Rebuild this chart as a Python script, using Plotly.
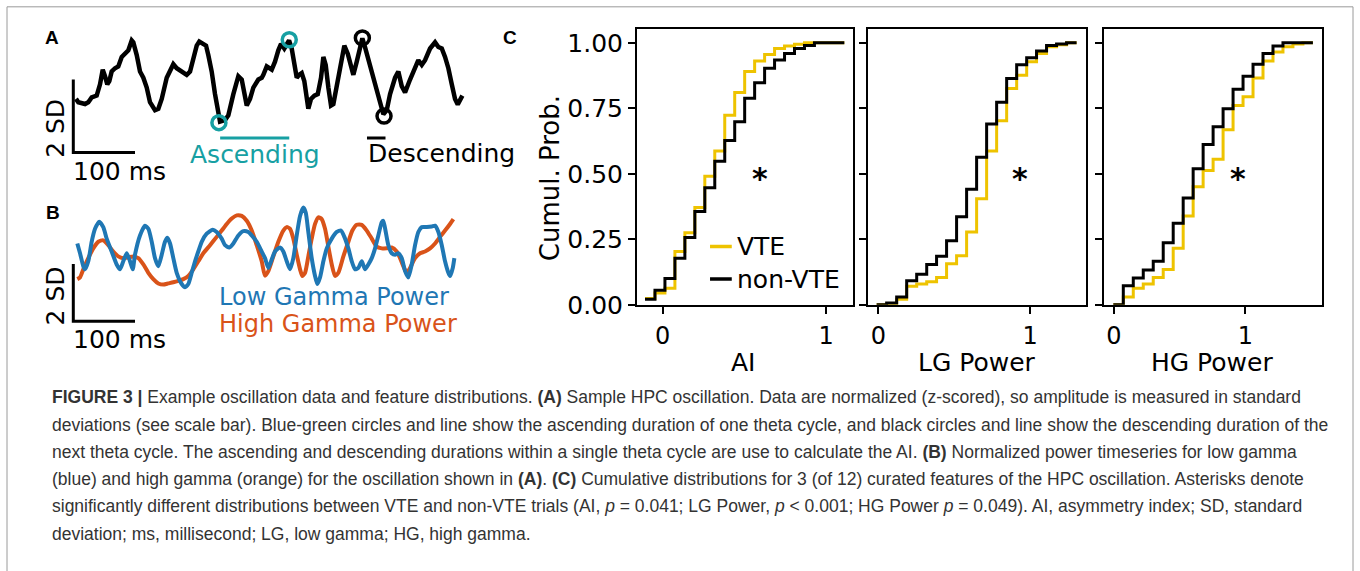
import plotly.graph_objects as go

W, H = 1360, 571

# ---------------- Panel A : sample HPC oscillation (time ms, amplitude SD)
a_time = [4.4, 8.1, 19.0, 24.3, 29.8, 37.9, 43.3, 47.7, 51.4, 55.1,
          58.4, 62.2, 67.6, 72.9, 78.5, 83.8, 89.2, 94.7, 97.3, 102.8,
          108.1, 113.5, 119.0, 124.3, 132.4, 137.8, 143.3, 151.4, 156.8, 162.1,
          167.6, 175.7, 183.8, 189.2, 194.5, 200.0, 204.2, 210.7, 215.1, 218.8,
          224.3, 229.7, 235.0, 237.8, 245.9, 251.3, 259.4, 267.5, 273.0, 278.3,
          281.1, 286.4, 291.8, 299.9, 305.4, 308.0, 313.5, 321.6, 326.9, 332.3,
          336.7, 342.0, 345.9, 349.7, 354.0, 358.2, 362.1, 365.9, 370.2, 374.4,
          378.3, 380.9, 385.3, 390.7, 396.2, 401.5, 405.3, 409.1, 413.4, 417.7,
          421.5, 427.0, 433.9, 439.3, 444.8, 450.2, 453.9, 459.4, 464.7, 468.5,
          472.8, 481.0, 489.1, 497.2, 502.5, 508.0, 513.4, 521.5, 526.8, 532.3,
          537.7, 545.8, 553.9, 559.2, 564.8, 570.1, 578.2, 586.3, 591.7, 597.2,
          602.5, 607.9, 613.4, 618.7, 623.1, 626.8, 630.6]
a_amp = [1.47, 1.38, 1.33, 1.38, 1.51, 1.56, 1.87, 2.27, 2.09, 1.87,
         1.96, 2.22, 2.31, 2.36, 2.62, 2.71, 2.80, 3.07, 3.02, 2.67,
         2.22, 2.05, 1.78, 1.38, 1.16, 1.20, 1.47, 2.05, 2.27, 2.42,
         2.31, 2.22, 2.13, 2.22, 2.58, 2.93, 3.04, 2.98, 2.93, 2.67,
         2.22, 1.60, 1.02, 0.85, 0.89, 1.02, 1.60, 2.09, 2.00, 1.56,
         1.29, 1.47, 1.78, 2.00, 2.05, 2.13, 2.36, 2.27, 2.49, 2.80,
         2.98, 2.85, 2.98, 3.07, 2.85, 2.40, 2.05, 2.13, 2.18, 1.96,
         1.38, 1.20, 1.47, 1.56, 1.60, 2.05, 2.62, 2.40, 1.78, 1.29,
         1.33, 1.78, 2.40, 2.93, 2.71, 2.36, 2.13, 2.49, 2.85, 3.13,
         2.89, 2.40, 1.87, 1.33, 1.05, 1.16, 1.60, 2.05, 2.22, 1.82,
         1.65, 2.00, 2.36, 2.53, 2.40, 2.53, 2.85, 3.02, 2.89, 2.85,
         2.62, 2.31, 1.87, 1.47, 1.32, 1.42, 1.56]
asc_pts_t = [236.0, 350.0]
asc_pts_a = [0.82, 3.09]
desc_pts_t = [468.5, 503.6]
desc_pts_a = [3.14, 1.00]
asc_bar = [238.0, 350.0]
desc_bar = [476.0, 506.0]
bar_level = 0.40
scale_ms = 100
scale_sd = 2

# ---------------- Panel B : gamma power time series
lg_time = [6.5, 10.9, 16.2, 19.0, 24.3, 29.8, 35.2, 42.1, 48.6, 54.1,
           62.2, 70.3, 75.7, 81.0, 86.6, 91.9, 96.3, 100.0, 108.1, 116.2,
           121.6, 127.1, 132.4, 137.8, 143.3, 148.6, 152.4, 156.8, 162.1, 167.6,
           175.7, 181.1, 186.4, 191.9, 197.3, 202.6, 208.1, 216.2, 226.0, 232.4,
           240.5, 245.9, 252.9, 259.4, 267.5, 275.6, 283.7, 289.2, 297.3, 305.4,
           310.7, 316.1, 321.6, 326.9, 335.0, 340.4, 345.9, 351.3, 356.6, 362.1,
           367.5, 372.8, 376.7, 380.9, 386.4, 391.8, 395.5, 399.9, 405.3, 410.8,
           418.9, 427.0, 433.9, 439.3, 445.8, 451.3, 456.6, 462.0, 467.5, 472.8,
           478.2, 483.7, 489.1, 494.4, 499.9, 502.5, 506.4, 510.6, 516.1, 521.5,
           526.8, 532.3, 537.7, 543.0, 548.5, 553.9, 559.2, 564.8, 572.9, 581.0,
           586.3, 591.7, 597.2, 602.5, 607.9, 610.6, 615.0, 617.6]
lg_power = [2.71, 2.37, 1.92, 1.81, 2.09, 2.77, 3.22, 3.47, 3.28, 2.88,
            2.43, 1.98, 1.81, 2.09, 2.37, 2.09, 1.81, 2.32, 2.99, 3.33,
            3.22, 2.77, 2.20, 1.92, 2.32, 2.77, 2.91, 2.71, 2.20, 1.69,
            1.30, 1.19, 1.30, 1.69, 2.09, 2.43, 2.77, 3.05, 3.19, 3.11,
            2.88, 2.65, 2.57, 2.71, 2.99, 3.14, 3.11, 2.99, 2.77, 2.43,
            2.20, 1.86, 2.15, 2.43, 2.57, 2.43, 2.09, 1.81, 2.20, 2.99,
            3.67, 3.96, 3.79, 3.11, 2.20, 1.58, 1.30, 1.53, 2.09, 2.54,
            2.88, 3.11, 3.16, 2.94, 2.54, 2.09, 1.81, 1.86, 2.09, 1.81,
            1.98, 2.20, 2.54, 2.99, 3.45, 3.50, 3.11, 2.65, 2.37, 2.32,
            2.37, 2.20, 1.75, 1.53, 1.98, 2.65, 3.11, 3.28, 3.28, 3.30,
            3.33, 3.11, 2.65, 2.09, 1.69, 1.58, 1.86, 2.20]
hg_time = [6.5, 10.9, 16.2, 24.3, 32.4, 40.5, 48.6, 56.7, 64.8, 72.9,
           81.0, 89.2, 97.3, 105.4, 113.5, 121.6, 129.7, 137.8, 145.9, 154.0,
           162.1, 170.2, 178.3, 186.4, 194.5, 202.6, 210.7, 221.6, 232.4, 240.5,
           248.7, 256.8, 264.9, 273.0, 281.1, 289.2, 297.3, 305.4, 310.7, 316.1,
           324.2, 332.3, 340.4, 345.9, 351.3, 356.6, 362.1, 367.5, 371.2, 375.6,
           380.9, 386.4, 391.8, 397.1, 402.6, 408.0, 413.4, 418.9, 424.2, 429.6,
           437.7, 445.8, 452.3, 459.4, 467.5, 475.6, 483.7, 491.8, 499.9, 508.0,
           516.1, 524.2, 529.6, 534.9, 540.4, 545.8, 553.9, 562.0, 570.1, 578.2,
           586.3, 594.4, 602.5, 610.6, 616.0]
hg_power = [1.47, 1.53, 1.81, 2.20, 2.54, 2.77, 2.82, 2.65, 2.43, 2.26,
            2.20, 2.23, 2.26, 2.20, 1.98, 1.69, 1.47, 1.32, 1.28, 1.32,
            1.36, 1.41, 1.47, 1.58, 1.81, 2.09, 2.37, 2.65, 2.94, 3.16,
            3.39, 3.58, 3.69, 3.67, 3.50, 3.16, 2.65, 2.09, 1.59, 1.75,
            2.26, 2.77, 3.16, 3.28, 3.22, 2.88, 2.32, 1.81, 1.58, 1.69,
            2.26, 2.88, 3.39, 3.62, 3.56, 3.22, 2.60, 1.98, 1.58, 1.69,
            2.26, 2.77, 3.16, 3.36, 3.36, 3.16, 2.88, 2.60, 2.54, 2.54,
            2.57, 2.43, 2.20, 1.92, 1.69, 1.86, 2.20, 2.37, 2.43, 2.54,
            2.71, 2.94, 3.16, 3.39, 3.56]

# ---------------- Panel C : cumulative distributions (bin edges + cumulative prob.)
ai_edges = [-0.108, -0.047, 0.014, 0.075, 0.136, 0.197, 0.258, 0.319, 0.380, 0.441, 0.502,
            0.563, 0.624, 0.685, 0.746, 0.807, 0.868, 0.929, 0.990, 1.051, 1.112]
ai_vte = [0.024, 0.045, 0.063, 0.203, 0.275, 0.371, 0.491, 0.587, 0.724, 0.810,
          0.891, 0.931, 0.955, 0.978, 0.988, 0.995, 1.0, 1.0, 1.0, 1.0]
ai_nonvte = [0.021, 0.055, 0.100, 0.178, 0.257, 0.356, 0.447, 0.548, 0.627, 0.699,
             0.788, 0.848, 0.903, 0.934, 0.959, 0.978, 0.990, 1.0, 1.0, 1.0]
lg_edges = [-0.011, 0.055, 0.121, 0.187, 0.253, 0.319, 0.384, 0.450, 0.516, 0.582, 0.648,
            0.714, 0.780, 0.846, 0.912, 0.978, 1.043, 1.109, 1.175, 1.241, 1.307]
lg_vte = [0.0, 0.003, 0.021, 0.071, 0.079, 0.088, 0.104, 0.157, 0.187, 0.278,
          0.405, 0.587, 0.703, 0.826, 0.876, 0.928, 0.959, 0.985, 0.993, 1.0]
lg_nonvte = [0.0, 0.007, 0.030, 0.092, 0.117, 0.154, 0.185, 0.244, 0.336, 0.441,
             0.563, 0.690, 0.773, 0.864, 0.916, 0.943, 0.969, 0.990, 0.996, 1.0]
hg_edges = [-0.005, 0.071, 0.147, 0.223, 0.299, 0.375, 0.451, 0.527, 0.603, 0.679, 0.755,
            0.831, 0.907, 0.983, 1.059, 1.135, 1.211, 1.287, 1.363, 1.439, 1.515]
hg_vte = [0.0, 0.030, 0.063, 0.079, 0.104, 0.135, 0.216, 0.339, 0.451, 0.513,
          0.556, 0.668, 0.761, 0.794, 0.866, 0.931, 0.965, 0.985, 0.996, 1.0]
hg_nonvte = [0.0, 0.073, 0.102, 0.133, 0.166, 0.237, 0.311, 0.408, 0.519, 0.612,
             0.680, 0.748, 0.823, 0.872, 0.918, 0.959, 0.988, 1.0, 1.0, 1.0]

c_panels = [("AI", ai_edges, ai_vte, ai_nonvte, 0.596),
            ("LG Power", lg_edges, lg_vte, lg_nonvte, 0.934),
            ("HG Power", hg_edges, hg_vte, hg_nonvte, 0.947)]
y_ticks = [0, 0.25, 0.5, 0.75, 1.0]
y_ticklabels = ["0.00", "0.25", "0.50", "0.75", "1.00"]
x_ticks = [0, 1]

caption_lines = [
    "<b>FIGURE 3 |</b> Example oscillation data and feature distributions. <b>(A)</b> Sample HPC oscillation. Data are normalized (z-scored), so amplitude is measured in standard",
    "deviations (see scale bar). Blue-green circles and line show the ascending duration of one theta cycle, and black circles and line show the descending duration of the",
    "next theta cycle. The ascending and descending durations within a single theta cycle are use to calculate the AI. <b>(B)</b> Normalized power timeseries for low gamma",
    "(blue) and high gamma (orange) for the oscillation shown in <b>(A)</b>. <b>(C)</b> Cumulative distributions for 3 (of 12) curated features of the HPC oscillation. Asterisks denote",
    "significantly different distributions between VTE and non-VTE trials (AI, <i>p</i> = 0.041; LG Power, <i>p</i> &lt; 0.001; HG Power <i>p</i> = 0.049). AI, asymmetry index; SD, standard",
    "deviation; ms, millisecond; LG, low gamma; HG, high gamma.",
]

# ---------------- styling
TEAL = "#17a0a3"
BLUE = "#1f77b4"
ORANGE = "#d95319"
YELLOW = "#eec300"
FONT = "DejaVu Sans"


def px(x):
    return x / W


def py(y):
    return 1 - y / H


fig = go.Figure()

# Panel A traces
fig.add_trace(go.Scatter(x=a_time, y=a_amp, mode="lines", line=dict(color="black", width=4.5),
                         xaxis="x4", yaxis="y4"))
fig.add_trace(go.Scatter(x=asc_pts_t, y=asc_pts_a, mode="markers",
                         marker=dict(symbol="circle-open", size=14, color=TEAL, line=dict(width=3.5, color=TEAL)),
                         xaxis="x4", yaxis="y4"))
fig.add_trace(go.Scatter(x=desc_pts_t, y=desc_pts_a, mode="markers",
                         marker=dict(symbol="circle-open", size=14, color="black", line=dict(width=3.5, color="black")),
                         xaxis="x4", yaxis="y4"))
fig.add_trace(go.Scatter(x=asc_bar, y=[bar_level, bar_level], mode="lines", line=dict(color=TEAL, width=3),
                         xaxis="x4", yaxis="y4"))
fig.add_trace(go.Scatter(x=desc_bar, y=[bar_level, bar_level], mode="lines", line=dict(color="black", width=3),
                         xaxis="x4", yaxis="y4"))
fig.add_trace(go.Scatter(x=[0, 0, scale_ms], y=[scale_sd, 0, 0], mode="lines", line=dict(color="black", width=3),
                         xaxis="x4", yaxis="y4"))

# Panel B traces
fig.add_trace(go.Scatter(x=hg_time, y=hg_power, mode="lines", line=dict(color=ORANGE, width=4, shape="spline", smoothing=0.6),
                         xaxis="x5", yaxis="y5"))
fig.add_trace(go.Scatter(x=lg_time, y=lg_power, mode="lines", line=dict(color=BLUE, width=4, shape="spline", smoothing=0.6),
                         xaxis="x5", yaxis="y5"))
fig.add_trace(go.Scatter(x=[0, 0, scale_ms], y=[scale_sd, 0, 0], mode="lines", line=dict(color="black", width=3),
                         xaxis="x5", yaxis="y5"))

# Panel C traces
axnames = ["", "2", "3"]
for (name, edges, vte, non, star_x), an in zip(c_panels, axnames):
    fig.add_trace(go.Scatter(x=edges, y=vte + [vte[-1]], mode="lines", line=dict(color=YELLOW, width=3, shape="hv"),
                             xaxis="x" + an, yaxis="y" + an))
    fig.add_trace(go.Scatter(x=edges, y=non + [non[-1]], mode="lines", line=dict(color="black", width=3, shape="hv"),
                             xaxis="x" + an, yaxis="y" + an))

c_dom = [(637, 853, [-0.157, 1.165]), (868.3, 1086, [-0.066, 1.369]), (1104, 1321.7, [-0.076, 1.582])]
layout = dict(width=W, height=H, margin=dict(l=0, r=0, t=0, b=0), paper_bgcolor="white",
              plot_bgcolor="white", showlegend=False)
for i, (x0, x1, rng) in enumerate(c_dom):
    an = axnames[i]
    layout["xaxis" + an] = dict(domain=[px(x0), px(x1)], range=rng, anchor="y" + an, showgrid=False,
                                zeroline=False, showline=True, linecolor="black", linewidth=2, mirror=True,
                                ticks="outside", ticklen=7, tickwidth=2, tickcolor="black",
                                tickvals=x_ticks, ticktext=["0", "1"], ticklabelstandoff=1,
                                tickfont=dict(family=FONT, size=24, color="black"))
    layout["yaxis" + an] = dict(domain=[py(313), py(30)], range=[0, 1.052], anchor="x" + an, showgrid=False,
                                zeroline=False, showline=True, linecolor="black", linewidth=2, mirror=True,
                                ticks="outside", ticklen=7, tickwidth=2, tickcolor="black",
                                tickvals=y_ticks, ticktext=y_ticklabels, showticklabels=(i == 0),
                                tickfont=dict(family=FONT, size=25, color="black"))

ms_per_px = 100 / 61.7
layout["xaxis4"] = dict(domain=[px(40), px(480)], range=[(40 - 73.3) * ms_per_px, (480 - 73.3) * ms_per_px],
                        visible=False, anchor="y4")
layout["yaxis4"] = dict(domain=[py(195), py(25)], range=[(156.7 - 195) / 37.5, (156.7 - 25) / 37.5],
                        visible=False, anchor="x4")
layout["xaxis5"] = dict(domain=[px(40), px(480)], range=[(40 - 73.3) * ms_per_px, (480 - 73.3) * ms_per_px],
                        visible=False, anchor="y5")
layout["yaxis5"] = dict(domain=[py(360), py(205)], range=[(330 - 360) / 29.5, (330 - 205) / 29.5],
                        visible=False, anchor="x5")
fig.update_layout(**layout)

ann = []


def txt(x, y, s, size, color="black", xref="paper", yref="paper", xanchor="center", yanchor="middle",
        family=FONT, angle=0, yshift=0, xshift=0):
    ann.append(dict(x=x, y=y, text=s, xref=xref, yref=yref, xanchor=xanchor, yanchor=yanchor, showarrow=False,
                    font=dict(family=family, size=size, color=color), textangle=angle, yshift=yshift,
                    xshift=xshift))


# panel letters
for L, x, y in [("A", 52, 38), ("B", 53, 218), ("C", 510, 38)]:
    txt(px(x), py(y), "<b>%s</b>" % L, 19, family="Liberation Sans, Arial")

# Panel A texts
txt(-28, 0.65, "2 SD", 25, xref="x4", yref="y4", angle=-90)
txt(-3, -0.53, "100 ms", 25, xref="x4", yref="y4", xanchor="left")
txt(294.5, -0.04, "Ascending", 25, color=TEAL, xref="x4", yref="y4")
txt(596, -0.03, "Descending", 25, xref="x4", yref="y4")

# Panel B texts
txt(-29.7, 0.90, "2 SD", 25, xref="x5", yref="y5", angle=-90)
txt(-3, -0.62, "100 ms", 25, xref="x5", yref="y5", xanchor="left")
txt(422.6, 0.83, "Low Gamma Power", 24, color=BLUE, xref="x5", yref="y5")
txt(428.3, -0.10, "High Gamma Power", 24, color=ORANGE, xref="x5", yref="y5")

# Panel C texts
txt(px(550), py(183), "Cumul. Prob.", 26, angle=-90)
for (name, edges, vte, non, star_x), an, cx in zip(c_panels, axnames, [743, 976.7, 1211.7]):
    txt(px(cx), py(372), name, 25)
    txt(star_x, 0.494, "<b>*</b>", 30, xref="x" + an, yref="y" + an, yshift=-3)

# legend in AI panel
txt(0.443, 0.222, "VTE", 25, xref="x", yref="y", xanchor="left")
txt(0.443, 0.098, "non-VTE", 25, xref="x", yref="y", xanchor="left")
shapes = [
    dict(type="line", xref="x", yref="y", x0=0.29, x1=0.423, y0=0.222, y1=0.222, line=dict(color=YELLOW, width=3.5)),
    dict(type="line", xref="x", yref="y", x0=0.29, x1=0.423, y0=0.098, y1=0.098, line=dict(color="black", width=3.5)),
    dict(type="rect", xref="paper", yref="paper", x0=px(7), x1=px(1353), y0=-0.05, y1=py(7),
         line=dict(color="#9a9a9a", width=1)),
]

# caption
for k, line in enumerate(caption_lines):
    txt(px(50), py(408 + 28.0 * k), line, 17.5, color="#333333", xanchor="left",
        family="Liberation Sans, Arial")

fig.update_layout(annotations=ann, shapes=shapes)
fig.write_html("out.html", config={"displayModeBar": False},
               post_script="document.body.style.margin='0';document.body.style.overflow='hidden';")
